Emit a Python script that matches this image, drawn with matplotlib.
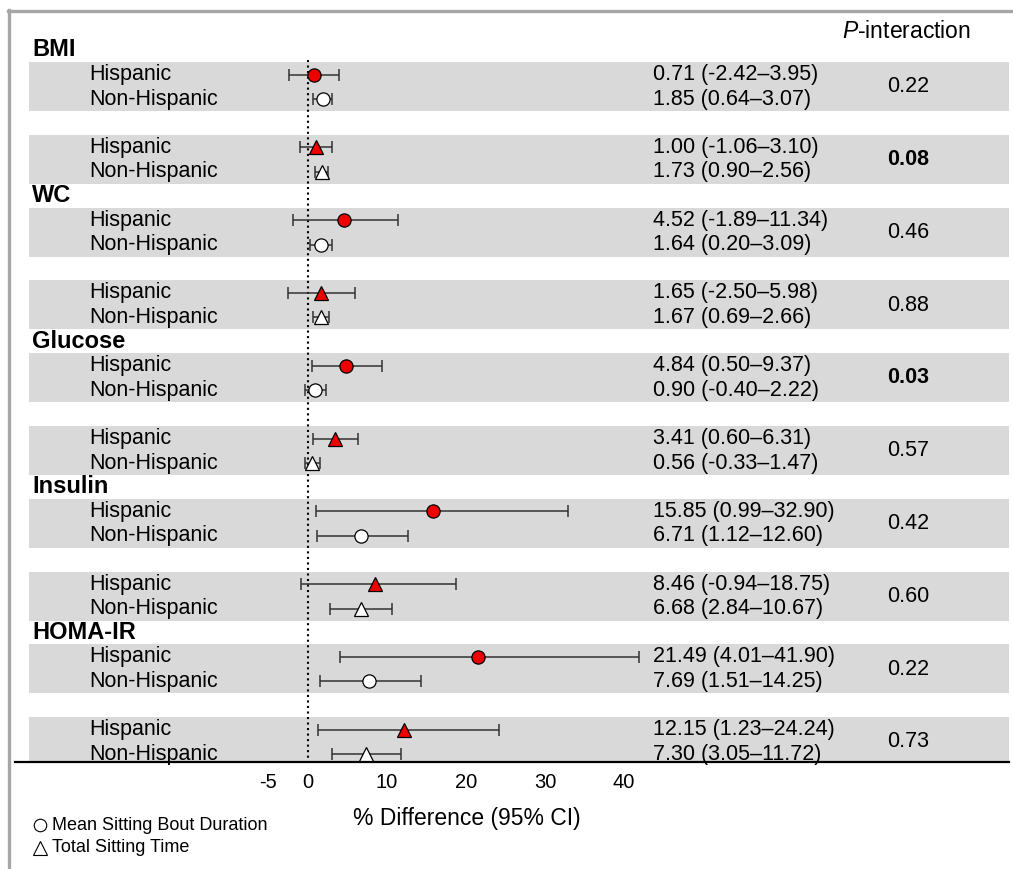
import matplotlib
matplotlib.use("Agg")
import matplotlib.pyplot as plt
from matplotlib.lines import Line2D

plt.rcParams['font.family'] = ['Liberation Sans', 'DejaVu Sans']
plt.rcParams['mathtext.fontset'] = 'custom'
plt.rcParams['mathtext.it'] = 'Liberation Sans:italic'
plt.rcParams['mathtext.rm'] = 'Liberation Sans'

# data
groups = ['BMI', 'WC', 'Glucose', 'Insulin', 'HOMA-IR']
rows = ['Hispanic', 'Non-Hispanic']
# one block per (outcome, exposure): circle = bout duration, triangle = total time
hisp_est = [0.71, 1.00, 4.52, 1.65, 4.84, 3.41, 15.85, 8.46, 21.49, 12.15]
hisp_lo = [-2.42, -1.06, -1.89, -2.50, 0.50, 0.60, 0.99, -0.94, 4.01, 1.23]
hisp_hi = [3.95, 3.10, 11.34, 5.98, 9.37, 6.31, 32.90, 18.75, 41.90, 24.24]
nonh_est = [1.85, 1.73, 1.64, 1.67, 0.90, 0.56, 6.71, 6.68, 7.69, 7.30]
nonh_lo = [0.64, 0.90, 0.20, 0.69, -0.40, -0.33, 1.12, 2.84, 1.51, 3.05]
nonh_hi = [3.07, 2.56, 3.09, 2.66, 2.22, 1.47, 12.60, 10.67, 14.25, 11.72]
p_values = ['0.22', '0.08', '0.46', '0.88', '0.03', '0.57', '0.42', '0.60', '0.22', '0.73']
p_bold = [False, True, False, False, True, False, False, False, False, False]
xticks = [-5, 0, 10, 20, 30, 40]

W, H = 1013, 869
fig = plt.figure(figsize=(W / 100, H / 100), dpi=100)


def fx(px):
    return px / W


def fy(py):
    return 1 - py / H


# axes: y in pixel rows from top, x in % difference
ax = fig.add_axes([fx(15), fy(762), fx(1009) - fx(15), fy(0) - fy(762)])
x0px, scale = 308, 7.9
ax.set_xlim((15 - x0px) / scale, (1009 - x0px) / scale)
ax.set_ylim(762, 0)


def xd(px):
    return (px - x0px) / scale


period = 72.8
red = '#ee0000'
ecol = '#333333'
fs = 15.5

for k in range(len(hisp_est)):
    top = 62 + period * k
    yh, yn = top + 12.5, top + 37
    ax.axhspan(top, top + 49, xmin=(29 - 15) / 994, xmax=1, color='#d9d9d9', lw=0, zorder=0)
    mk = 'o' if k % 2 == 0 else '^'
    ms = 9.5 if mk == 'o' else 10.5
    for y, e, lo, hi, fc in [(yh, hisp_est[k], hisp_lo[k], hisp_hi[k], red),
                             (yn, nonh_est[k], nonh_lo[k], nonh_hi[k], 'white')]:
        ax.errorbar(e, y, xerr=[[e - lo], [hi - e]], fmt='none', ecolor=ecol,
                    elinewidth=1.1, capsize=4.5, capthick=1.1, zorder=3)
        ax.plot(e, y, marker=mk, ms=ms, mfc=fc, mec='black', mew=0.9, ls='none', zorder=4)
    # row labels
    ax.text(xd(89), yh, rows[0], fontsize=fs, va='center', ha='left')
    ax.text(xd(89), yn, rows[1], fontsize=fs, va='center', ha='left')
    # estimates
    ax.text(xd(653), yh, f"{hisp_est[k]:.2f} ({hisp_lo[k]:.2f}\u2013{hisp_hi[k]:.2f})",
            fontsize=fs, va='center', ha='left')
    ax.text(xd(653), yn, f"{nonh_est[k]:.2f} ({nonh_lo[k]:.2f}\u2013{nonh_hi[k]:.2f})",
            fontsize=fs, va='center', ha='left')
    ax.text(xd(887), (yh + yn) / 2, p_values[k], fontsize=fs, va='center', ha='left',
            fontweight='bold' if p_bold[k] else 'normal')
    if k % 2 == 0:
        ax.text(xd(32), top - 12, groups[k // 2], fontsize=17, fontweight='bold',
                va='center', ha='left')

ax.text(xd(842), 32, r'$\it{P}$-interaction', fontsize=16.5, va='center', ha='left')

# reference line at zero
ax.plot([0, 0], [60, 762], ls=':', color='black', lw=1.5, zorder=2)

for s in ['top', 'left', 'right']:
    ax.spines[s].set_visible(False)
ax.spines['bottom'].set_linewidth(1.6)
ax.set_yticks([])
ax.set_xticks(xticks)
ax.set_xticklabels([str(t) for t in xticks])
ax.tick_params(axis='x', length=0, pad=8, labelsize=14.5)
ax.patch.set_alpha(0)

fig.text(fx(467), fy(818), '% Difference (95% CI)', fontsize=16.5,
         ha='center', va='center')

# legend: symbol drawn as marker, label as text
fig.add_artist(Line2D([fx(40)], [fy(825)], marker='o', ms=9, mfc='white', mec='black',
                      mew=0.8, ls='none'))
fig.add_artist(Line2D([fx(40)], [fy(848)], marker='^', ms=9.5, mfc='white', mec='black',
                      mew=0.8, ls='none'))
fig.text(fx(52), fy(825), 'Mean Sitting Bout Duration', fontsize=13, ha='left', va='center')
fig.text(fx(52), fy(848), 'Total Sitting Time', fontsize=13, ha='left', va='center')

# grey frame edges
fig.add_artist(Line2D([fx(8), 1], [fy(11), fy(11)], color='#a6a6a6', lw=2.4))
fig.add_artist(Line2D([fx(9), fx(9)], [fy(10), 0], color='#a6a6a6', lw=2.4))

fig.savefig('out.png', dpi=100)
